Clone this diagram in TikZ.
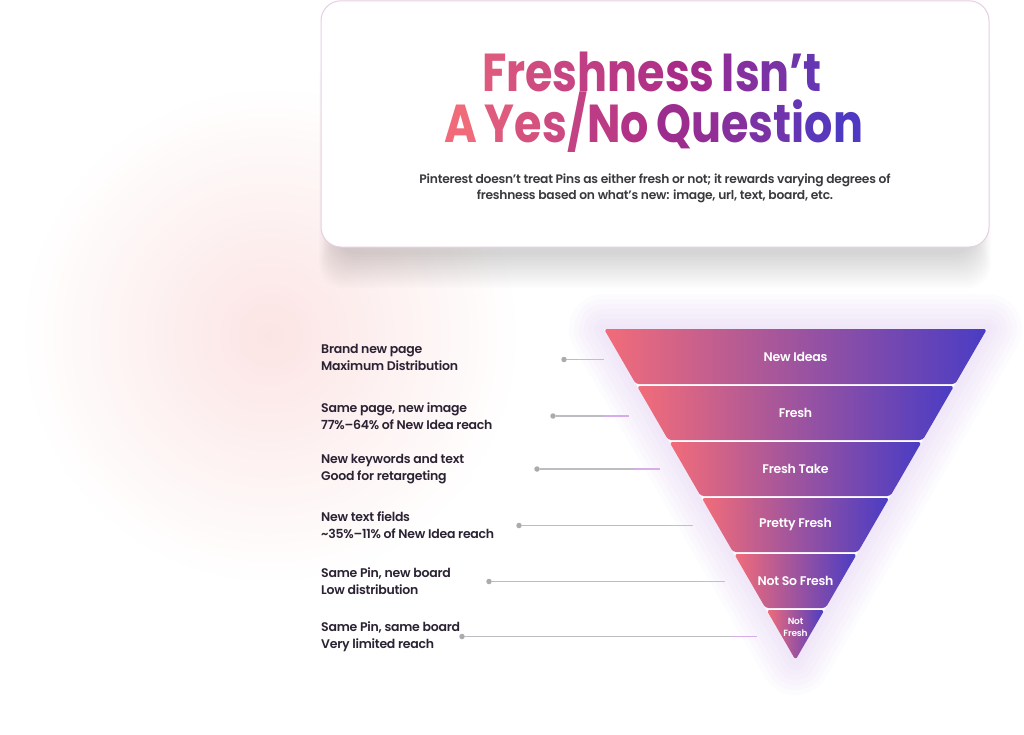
\documentclass[tikz,border=0pt]{standalone}
\usepackage{fontspec}
\setmainfont{Poppins}
\newfontfamily\fsemi[LetterSpace=-5]{Poppins}
\IfFontExistsTF{Poppins SemiBold}
 {\newfontfamily\flab[LetterSpace=-2]{Poppins SemiBold}}
 {\newfontfamily\flab[LetterSpace=-2,FakeBold=1.5]{Poppins}}
\definecolor{fpink}{HTML}{F26C79}
\definecolor{fmag}{HTML}{A52A8A}
\definecolor{fblue}{HTML}{4A3CC4}
\definecolor{tpink}{HTML}{F06A7A}
\definecolor{tmag}{HTML}{A82A88}
\definecolor{tblue}{HTML}{4E3AC2}
\definecolor{labtxt}{HTML}{2B2233}
\definecolor{subtxt}{HTML}{3A3A3E}
\definecolor{linegray}{HTML}{BDBDC1}
\definecolor{linepurp}{HTML}{D6ADE8}
\definecolor{dotgray}{HTML}{ABABAF}
\definecolor{glowpink}{HTML}{FCE4E4}
\definecolor{cardline}{HTML}{E6CFE0}
\definecolor{halo}{HTML}{DCC0F2}
\newcommand\gch[2]{\ifnum#1<50 \pgfmathtruncatemacro\gv{2*#1}\textcolor{tmag!\gv!tpink}{#2}\else\pgfmathtruncatemacro\gv{2*#1-100}\textcolor{tblue!\gv!tmag}{#2}\fi}
\tikzset{
  band/.style={left color=fpink, middle color=fmag, right color=fblue, rounded corners=3pt},
  bandlabel/.style={text=white, font=\flab\fontsize{12.5}{13}\selectfont, inner sep=0pt},
  leftlab/.style={anchor=west, align=left, inner sep=0pt, text=labtxt,
     font=\flab\fontsize{12.5}{17}\selectfont},
  dotnode/.style={circle, fill=dotgray, minimum size=5.5pt, inner sep=0pt},
  conn/.style={draw=linegray, line width=1.4pt},
  connp/.style={draw=linepurp, line width=1.4pt},
  titletext/.style={anchor=base, inner sep=0pt, font=\fsemi\bfseries\fontsize{44.5}{50}\selectfont},
}
\begin{document}
\begin{tikzpicture}[x=1pt,y=-1pt]
\useasboundingbox (0,0) rectangle (1024,735);
\fill[white] (0,0) rectangle (1024,735);
% background glow
\shade[inner color=glowpink, outer color=white] (270,335) circle (250);
% card shadow
\foreach \k in {1,...,14} {
  \fill[black, opacity=0.010, rounded corners=24pt]
    ({336-\k*1.2},{60-\k*0.5}) rectangle ({974+\k*1.2},{252+\k*2.6});
}
% card
\draw[cardline, line width=1pt, fill=white, rounded corners=20pt]
  (321,0.8) rectangle (989,247);
% title (per-letter gradient)
\node[titletext] (title1) at (652,92)
  {\scalebox{1}[1.2]{\gch{13}{F}\gch{18}{r}\gch{23}{e}\gch{29}{s}\gch{34}{h}\gch{39}{n}\gch{44}{e}\gch{49}{s}\gch{54}{s} \gch{65}{I}\gch{70}{s}\gch{75}{n}\gch{80}{’}\gch{86}{t}}};
\node[titletext] (title2) at (654,143)
  {\scalebox{1}[1.2]{\gch{0}{A} \gch{12}{Y}\gch{19}{e}\gch{25}{s}\gch{31}{/}\gch{37}{N}\gch{44}{o} \gch{56}{Q}\gch{62}{u}\gch{69}{e}\gch{75}{s}\gch{81}{t}\gch{87}{i}\gch{94}{o}\gch{100}{n}}};
\node[text=subtxt, align=center, font=\flab\fontsize{12.3}{16}\selectfont, inner sep=0pt]
  (sub) at (655,188)
  {Pinterest doesn’t treat Pins as either fresh or not; it rewards varying degrees of\\
   freshness based on what’s new: image, url, text, board, etc.};
% funnel halo
\foreach \w in {70,60,50,40,30,20,10} {
  \draw[halo, opacity=0.06, line width=\w pt, line join=round]
    (604,329) -- (987,329) -- (795.5,660) -- cycle;
}
\fill[white] (604,329) -- (987,329) -- (795.5,660) -- cycle;
% funnel bands
\foreach \i/\lab in {0/New Ideas,1/Fresh,2/Fresh Take,3/Pretty Fresh,4/Not So Fresh} {
  \pgfmathsetmacro\yt{329+56*\i+(\i>0 ? 1 : 0)}
  \pgfmathsetmacro\yb{329+56*(\i+1)-1}
  \pgfmathsetmacro\xtl{795.5-0.5785*(660-\yt)}
  \pgfmathsetmacro\xtr{795.5+0.5785*(660-\yt)}
  \pgfmathsetmacro\xbl{795.5-0.5785*(660-\yb)}
  \pgfmathsetmacro\xbr{795.5+0.5785*(660-\yb)}
  \shade[band] (\xtl,\yt) -- (\xtr,\yt) -- (\xbr,\yb) -- (\xbl,\yb) -- cycle;
  \node[bandlabel] (band\i) at (795.5,{(\yt+\yb)/2}) {\lab};
}
\pgfmathsetmacro\xtl{795.5-0.5785*(660-610)}
\pgfmathsetmacro\xtr{795.5+0.5785*(660-610)}
\shade[band] (\xtl,610) -- (\xtr,610) -- (795.5,660) -- cycle;
\node[bandlabel, align=center, font=\flab\fontsize{9}{12.5}\selectfont]
  (band5) at (795.5,627.5) {Not\\Fresh};
% left labels
\node[leftlab] (l1) at (321,357.5) {Brand new page\\Maximum Distribution};
\node[leftlab] (l2) at (321,416.5) {Same page, new image\\77\%–64\% of New Idea reach};
\node[leftlab] (l3) at (321,469.5) {New keywords and text\\Good for retargeting};
\node[leftlab] (l4) at (321,525.5) {New text fields\\\textasciitilde35\%–11\% of New Idea reach};
\node[leftlab] (l5) at (321,581.5) {Same Pin, new board\\Low distribution};
\node[leftlab] (l6) at (321,636.5) {Same Pin, same board\\Very limited reach};
% connectors
\foreach \i/\y/\xd/\xe in {1/359.5/564/604, 2/416/553/629, 3/469/537/660,
                           4/525.5/519/693, 5/581.5/489/725, 6/636.5/462/757} {
  \node[dotnode] (d\i) at (\xd,\y) {};
  \coordinate (e\i) at (\xe,\y);
  \coordinate (p\i) at ({\xe-26},\y);
  \draw[conn] (d\i) -- (p\i);
  \draw[connp] (p\i) -- (e\i);
}
\end{tikzpicture}
\end{document}
